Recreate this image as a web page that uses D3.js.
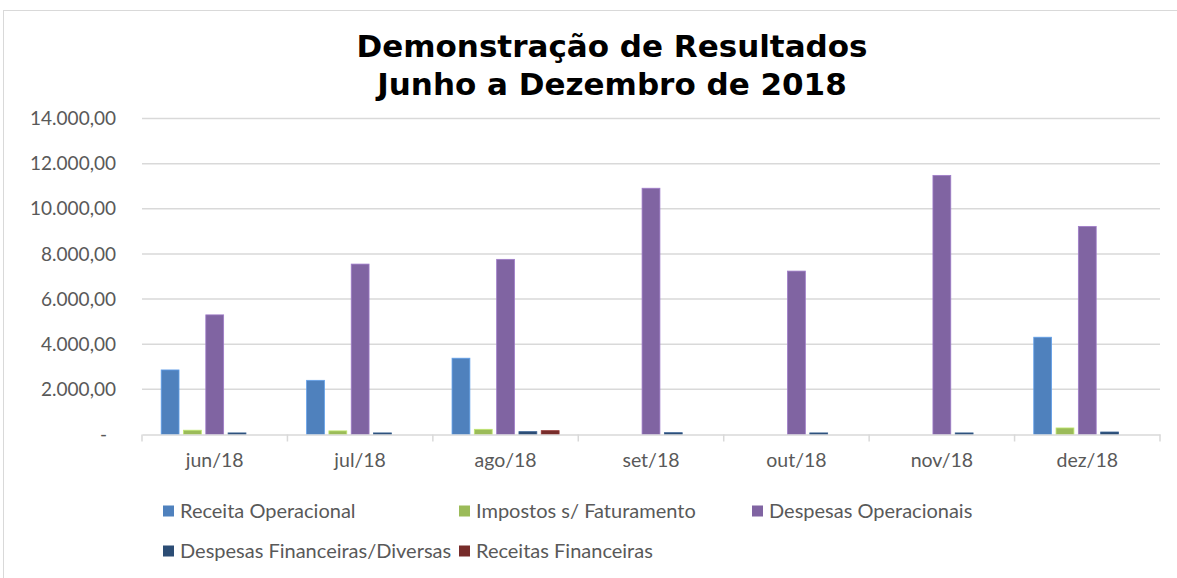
<!DOCTYPE html>
<html>
<head>
<meta charset="utf-8">
<script src="https://cdn.jsdelivr.net/npm/d3@7"></script>
<style>
  html, body { margin: 0; padding: 0; background: #fff; }
  svg { display: block; }
</style>
</head>
<body>
<div id="chart"></div>
<script>
const categories = ["jun/18", "jul/18", "ago/18", "set/18", "out/18", "nov/18", "dez/18"];
const seriesNames = ["Receita Operacional", "Impostos s/ Faturamento", "Despesas Operacionais",
  "Despesas Financeiras/Diversas", "Receitas Financeiras"];
const seriesColors = ["#4F81BD", "#9BBB59", "#8064A2", "#2C4D75", "#772C2A"];
const receitaOperacional = [2860, 2400, 3380, 0, 0, 0, 4310];
const impostosFaturamento = [190, 160, 230, 0, 0, 0, 290];
const despesasOperacionais = [5300, 7550, 7760, 10910, 7240, 11480, 9220];
const despesasFinanceiras = [70, 70, 125, 80, 70, 70, 110];
const receitasFinanceiras = [0, 0, 170, 0, 0, 0, 0];
const yTicks = [0, 2000, 4000, 6000, 8000, 10000, 12000, 14000];
const titleLines = ["Demonstração de Resultados", "Junho a Dezembro de 2018"];

const seriesValues = [receitaOperacional, impostosFaturamento, despesasOperacionais,
  despesasFinanceiras, receitasFinanceiras];

function drawChart(width, height) {
  const plot = { left: 142, right: 1160, top: 118.5, bottom: 434.5 };
  const textColor = "#595959";
  const gridColor = "#D9D9D9";
  const bodyFont = "Lato, 'Open Sans', sans-serif";

  const svg = d3.select("#chart")
    .append("svg")
    .attr("width", width)
    .attr("height", height);

  // outer chart border (runs off the right and bottom edges)
  svg.append("rect")
    .attr("x", 3.5)
    .attr("y", 10.5)
    .attr("width", width + 10)
    .attr("height", height + 10)
    .attr("fill", "none")
    .attr("stroke", gridColor)
    .attr("stroke-width", 1);

  const title = svg.append("text")
    .attr("x", 612)
    .attr("text-anchor", "middle")
    .style("font-family", "'DejaVu Sans', Verdana, sans-serif")
    .style("font-weight", "bold")
    .style("font-size", "31px")
    .attr("fill", "#000");
  title.selectAll("tspan")
    .data(titleLines)
    .enter()
    .append("tspan")
    .attr("x", 612)
    .attr("y", (d, i) => 57 + i * 38)
    .text(d => d);

  const x0 = d3.scaleBand()
    .domain(categories)
    .range([plot.left, plot.right])
    .padding(0);

  const x1 = d3.scaleBand()
    .domain(seriesNames)
    .range([0, x0.bandwidth()])
    .paddingInner(0.2)
    .paddingOuter(0.86);

  const y = d3.scaleLinear()
    .domain([0, 14000])
    .range([plot.bottom, plot.top]);

  const locale = d3.formatLocale({ decimal: ",", thousands: ".", grouping: [3], currency: ["R$", ""] });
  const fmt = locale.format(",.2f");

  // gridlines
  svg.append("g")
    .selectAll("line")
    .data(yTicks.filter(t => t > 0))
    .enter()
    .append("line")
    .attr("x1", plot.left)
    .attr("x2", plot.right)
    .attr("y1", d => y(d))
    .attr("y2", d => y(d))
    .attr("stroke", gridColor)
    .attr("stroke-width", 1.5);

  // y axis labels
  const yAxis = svg.append("g")
    .attr("transform", `translate(${plot.left},0)`)
    .call(d3.axisLeft(y)
      .tickValues(yTicks)
      .tickSize(0)
      .tickPadding(26)
      .tickFormat(d => d === 0 ? "-" : fmt(d)));
  yAxis.select(".domain").remove();
  yAxis.selectAll("text")
    .attr("fill", textColor)
    .style("font-family", bodyFont)
    .style("font-size", "19px")
    .attr("dx", d => d === 0 ? -9 : 0);

  // bars
  const rows = categories.map((c, i) => ({
    category: c,
    values: seriesNames.map((s, j) => ({ key: s, value: seriesValues[j][i], color: seriesColors[j] }))
  }));

  svg.append("g")
    .selectAll("g")
    .data(rows)
    .enter()
    .append("g")
    .attr("transform", d => `translate(${x0(d.category)},0)`)
    .selectAll("rect")
    .data(d => d.values.filter(v => v.value > 0))
    .enter()
    .append("rect")
    .attr("x", d => x1(d.key))
    .attr("y", d => y(d.value))
    .attr("width", x1.bandwidth())
    .attr("height", d => y(0) - y(d.value))
    .attr("fill", d => d.color)
    .attr("stroke", d => d3.color(d.color).brighter(0.6))
    .attr("stroke-width", 0.8);

  // x axis: baseline, boundary ticks and labels
  const xAxis = svg.append("g")
    .attr("transform", `translate(0,${plot.bottom})`)
    .call(d3.axisBottom(x0).tickSize(0).tickPadding(19));
  xAxis.select(".domain")
    .attr("stroke", gridColor)
    .attr("stroke-width", 1.5);
  xAxis.selectAll("text")
    .attr("fill", textColor)
    .style("font-family", bodyFont)
    .style("font-size", "19.5px");

  const boundaries = categories.map(c => x0(c)).concat([x0(categories[categories.length - 1]) + x0.bandwidth()]);
  xAxis.selectAll(".bound")
    .data(boundaries)
    .enter()
    .append("line")
    .attr("class", "bound")
    .attr("x1", d => d)
    .attr("x2", d => d)
    .attr("y1", 0)
    .attr("y2", 7)
    .attr("stroke", gridColor)
    .attr("stroke-width", 1.5);

  // legend
  const legendX = [163, 459, 752];
  const legend = svg.append("g")
    .selectAll("g")
    .data(seriesNames)
    .enter()
    .append("g")
    .attr("transform", (d, i) => {
      const row = Math.floor(i / 3);
      const col = i % 3;
      return `translate(${legendX[col]},${511 + row * 40})`;
    });
  legend.append("rect")
    .attr("x", 0)
    .attr("y", -5.5)
    .attr("width", 11)
    .attr("height", 11)
    .attr("fill", (d, i) => seriesColors[i]);
  legend.append("text")
    .attr("x", 17)
    .attr("y", 0)
    .attr("dy", "0.35em")
    .attr("fill", textColor)
    .style("font-family", bodyFont)
    .style("font-size", "20px")
    .text(d => d);
}

drawChart(1177, 578);
</script>
</body>
</html>
